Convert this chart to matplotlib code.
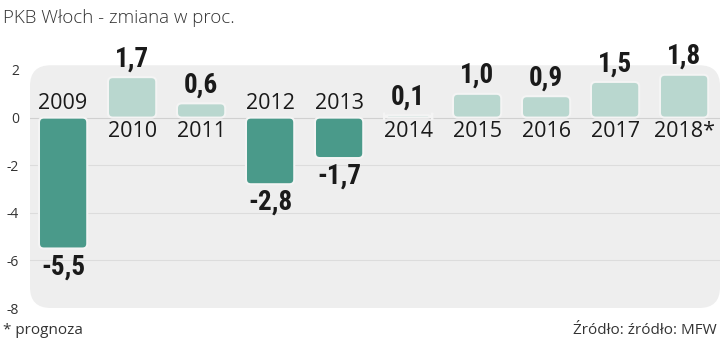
import matplotlib
matplotlib.use('agg')
import matplotlib.pyplot as plt
from matplotlib.patches import FancyBboxPatch

years = ['2009', '2010', '2011', '2012', '2013', '2014', '2015', '2016', '2017', '2018*']
values = [-5.5, 1.7, 0.6, -2.8, -1.7, 0.1, 1.0, 0.9, 1.5, 1.8]
value_labels = ['-5,5', '1,7', '0,6', '-2,8', '-1,7', '0,1', '1,0', '0,9', '1,5', '1,8']
yticks = [2, 0, -2, -4, -6, -8]

fig = plt.figure(figsize=(7.2, 3.42), dpi=100)
ax = fig.add_axes([30 / 720, 1 - 308 / 342, 690 / 720, 238 / 342])
ax.set_xlim(-0.48, 9.52)
ax.set_ylim(-8, 2)

# rounded grey plot background
bg = FancyBboxPatch((0, 0), 1, 1.02, boxstyle='round,pad=0,rounding_size=0.03',
                    transform=ax.transAxes, facecolor='#eeeeee', edgecolor='none',
                    mutation_aspect=690 / 238, zorder=0, clip_on=False)
ax.add_patch(bg)
for s in ax.spines.values():
    s.set_visible(False)
ax.set_facecolor('none')

for t in yticks[1:-1]:
    ax.axhline(t, color='#dcdcdc' if t else '#d0d0d0', lw=0.8, zorder=1)

bars = ax.bar(range(len(years)), values, width=0.7)
aspect = (690 / 10) / (238 / 10)
for b, v in zip(bars, values):
    x, y = b.get_x(), b.get_y()
    w, h = b.get_width(), b.get_height()
    b.set_visible(False)
    fc = '#4a9a8a' if v < 0 else '#b9d7cf'
    p = FancyBboxPatch((x, min(y, y + h)), w, abs(h),
                       boxstyle='round,pad=0,rounding_size=0.07',
                       mutation_aspect=aspect, facecolor=fc,
                       edgecolor='#f4f4f4', lw=1.5, zorder=3)
    ax.add_patch(p)

val_font = dict(family=['Roboto Condensed', 'Asap Condensed', 'DejaVu Sans'], weight='bold',
                fontsize=19.5, color='#1a1a1a')
yr_font = dict(family=['Open Sans', 'DejaVu Sans'], fontsize=15.5, color='#1a1a1a')
for i, (v, lab, yr) in enumerate(zip(values, value_labels, years)):
    if v >= 0:
        ax.text(i, v + 0.2, lab, ha='center', va='bottom', clip_on=False, **val_font)
        ax.text(i, -0.15, yr, ha='center', va='top', **yr_font)
    else:
        ax.text(i, v - 0.2, lab, ha='center', va='top', **val_font)
        ax.text(i, 0.15, yr, ha='center', va='bottom', **yr_font)

ax.set_xticks([])
ax.set_yticks(yticks)
ax.set_yticklabels([str(t) for t in yticks], family='Open Sans', fontsize=10, color='#333333')
ax.tick_params(axis='y', length=0, pad=8)

fig.text(0.004, 0.975, 'PKB Włoch - zmiana w proc.', family='Open Sans', weight='light',
         fontsize=13.5, color='#333333', ha='left', va='top')
fig.text(0.004, 0.035, '* prognoza', family='Open Sans', fontsize=11, color='#333333',
         ha='left', va='center')
fig.text(0.995, 0.035, 'Źródło: źródło: MFW', family='Open Sans', fontsize=11,
         color='#333333', ha='right', va='center')

fig.savefig('out.png', dpi=100)
